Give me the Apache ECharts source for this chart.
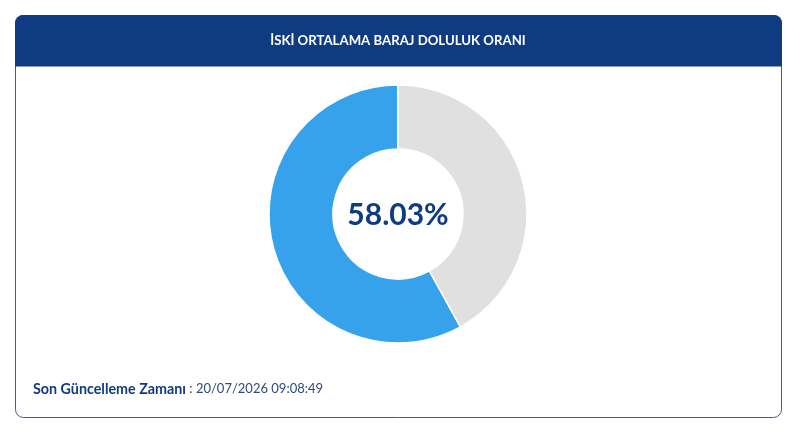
<!DOCTYPE html>
<html>
<head>
<meta charset="utf-8">
<style>
  html, body { margin: 0; padding: 0; background: #fff; }
  #chart { width: 800px; height: 437px; }
</style>
<script src="https://cdn.jsdelivr.net/npm/echarts@6/dist/echarts.min.js"></script>
</head>
<body>
<div id="chart"></div>
<script>
const chartTitle = 'İSKİ ORTALAMA BARAJ DOLULUK ORANI';
const sliceNames = ['Doluluk', 'Boş'];
const sliceValues = [58.03, 41.97];
const sliceColors = ['#36a2eb', '#e0e0e0'];
const centerLabel = '58.03%';
const updatedLabel = 'Son Güncelleme Zamanı';
const updatedValue = ' : 20/07/2026 09:08:49';

const navy = '#0f3b82';
const fontFamily = 'Lato, Inter, sans-serif';

const chart = echarts.init(document.getElementById('chart'), null, { renderer: 'canvas' });

chart.setOption({
  animation: false,
  backgroundColor: '#ffffff',
  graphic: [
    // card frame and header band
    { type: 'rect', z: 0, shape: { x: 15.5, y: 15.5, width: 766, height: 402, r: 8 },
      style: { fill: '#ffffff', stroke: '#2f5fb5', lineWidth: 1 } },
    { type: 'rect', z: 1, shape: { x: 15, y: 15, width: 767, height: 51.5, r: [8, 8, 0, 0] },
      style: { fill: navy } },
    { type: 'text', z: 2, x: 398, y: 41,
      style: { text: chartTitle, fill: '#ffffff', font: '700 13.2px ' + fontFamily, align: 'center', verticalAlign: 'middle' } },
    { type: 'text', z: 2, x: 398, y: 215,
      style: { text: centerLabel, fill: navy, font: '700 30px ' + fontFamily, align: 'center', verticalAlign: 'middle' } },
    { type: 'text', z: 2, x: 33, y: 389,
      style: {
        text: '{b|' + updatedLabel + '}{n|' + updatedValue + '}',
        verticalAlign: 'middle',
        rich: {
          b: { fill: navy, font: '700 14.3px ' + fontFamily },
          n: { fill: '#2f4a78', font: '400 13px ' + fontFamily }
        }
      } }
  ],
  series: [
    {
      type: 'pie',
      center: [398, 214],
      radius: [65, 129],
      startAngle: 90,
      clockwise: false,
      label: { show: false },
      labelLine: { show: false },
      silent: true,
      itemStyle: { borderColor: '#ffffff', borderWidth: 1.5 },
      data: sliceNames.map((name, i) => ({
        name,
        value: sliceValues[i],
        itemStyle: { color: sliceColors[i] }
      }))
    }
  ]
});
</script>
</body>
</html>
